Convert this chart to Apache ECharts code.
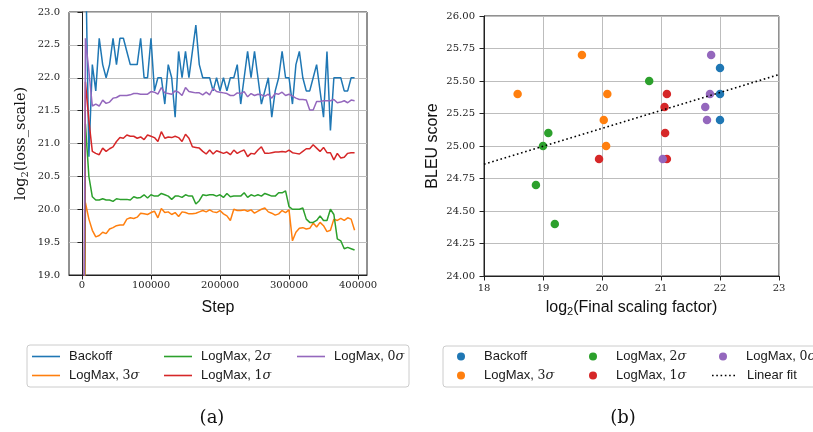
<!DOCTYPE html>
<html>
<head>
<meta charset="utf-8">
<script src="https://cdn.jsdelivr.net/npm/echarts@6/dist/echarts.min.js"></script>
<style>
  html, body { margin: 0; padding: 0; background: #fff; }
  #main { width: 813px; height: 432px; }
</style>
</head>
<body>
<div id="main"></div>
<script>
// (a) training step of each logged point
const steps = [1000, 5000, 10000, 15000, 20000, 25000, 30000, 35000, 40000, 45000,
  50000, 55000, 60000, 65000, 70000, 75000, 80000, 85000, 90000, 95000,
  100000, 105000, 110000, 115000, 120000, 125000, 130000, 135000, 140000, 145000,
  150000, 155000, 160000, 165000, 170000, 175000, 180000, 185000, 190000, 195000,
  200000, 205000, 210000, 215000, 220000, 225000, 230000, 235000, 240000, 245000,
  250000, 255000, 260000, 265000, 270000, 275000, 280000, 285000, 290000, 295000,
  300000, 305000, 310000, 315000, 320000, 325000, 330000, 335000, 340000, 345000,
  350000, 355000, 360000, 365000, 370000, 375000, 380000, 385000, 390000, 395000];

// log2(loss_scale) per run
const backoff = [24.0, 24.0, 20.8, 22.2, 21.8, 22.6, 22.2, 22.0, 22.2, 22.6,
  22.2, 22.6, 22.6, 22.4, 22.2, 22.2, 22.2, 22.6, 22.0, 22.0,
  22.6, 21.8, 22.0, 22.0, 21.6, 22.2, 22.0, 21.4, 22.4, 22.0,
  22.4, 22.0, 22.4, 22.8, 22.2, 22.0, 22.0, 22.0, 21.8, 22.0,
  21.8, 22.0, 21.8, 22.0, 22.0, 22.2, 21.6, 22.0, 22.4, 22.0,
  22.4, 22.0, 21.6, 21.8, 22.0, 21.4, 21.8, 22.0, 22.4, 22.0,
  22.0, 21.6, 22.2, 22.4, 22.0, 21.8, 21.8, 22.0, 22.2, 21.8,
  21.4, 22.4, 21.2, 22.0, 22.0, 22.0, 21.8, 21.8, 22.0, 22.0];
const logmax3 = [14, 20.1, 19.85, 19.68, 19.58, 19.6, 19.65, 19.63, 19.7, 19.72,
  19.75, 19.76, 19.76, 19.85, 19.87, 19.86, 19.88, 19.94, 19.93, 19.92,
  19.95, 19.97, 19.87, 20.01, 19.95, 19.96, 19.92, 19.95, 19.89, 19.96,
  19.95, 19.93, 19.93, 19.94, 19.96, 19.98, 19.96, 19.99, 19.96, 19.95,
  19.98, 19.93, 19.9, 19.83, 20.0, 19.98, 19.98, 19.99, 19.97, 19.99,
  19.94, 19.97, 20.0, 20.02, 19.96, 19.94, 19.91, 19.93, 19.98, 19.95,
  19.99, 19.52, 19.65, 19.71, 19.72, 19.7, 19.71, 19.79, 19.73, 19.8,
  19.75, 19.66, 19.68, 19.85, 19.83, 19.86, 19.83, 19.87, 19.85, 19.68];
const logmax2 = [14, 21.3, 20.5, 20.19, 20.14, 20.14, 20.16, 20.14, 20.14, 20.12,
  20.16, 20.15, 20.15, 20.15, 20.14, 20.19, 20.17, 20.18, 20.22, 20.17,
  20.22, 20.2, 20.2, 20.24, 20.22, 20.2, 20.15, 20.2, 20.2, 20.18,
  20.22, 20.2, 20.2, 20.08, 20.13, 20.22, 20.21, 20.22, 20.22, 20.2,
  20.22, 20.18, 20.24, 20.19, 20.2, 20.2, 20.2, 20.25, 20.18, 20.22,
  20.2, 20.22, 20.2, 20.24, 20.22, 20.2, 20.2, 20.25, 20.25, 20.28,
  20.04, 20.0, 20.0, 20.0, 20.02, 19.85, 19.8, 19.8, 19.83, 19.9,
  19.83, 19.83, 20.0, 19.92, 19.55, 19.52, 19.4, 19.42, 19.4, 19.38];
const logmax1 = [14, 21.94, 21.35, 20.88, 20.85, 20.83, 20.93, 20.88, 20.92, 20.95,
  21.03, 21.09, 21.08, 21.13, 21.11, 21.11, 21.08, 21.1, 21.06, 21.13,
  21.11, 21.09, 21.03, 21.18, 21.08, 21.1, 21.09, 21.11, 21.09, 21.03,
  21.14, 21.08, 20.95, 20.94, 20.93, 20.88, 20.84, 20.9, 20.84, 20.89,
  20.87, 20.85, 20.87, 20.83, 20.9, 20.85, 20.88, 20.9, 20.8, 20.85,
  20.84, 20.9, 20.95, 20.85, 20.85, 20.86, 20.87, 20.87, 20.88, 20.87,
  20.9, 20.86, 20.85, 20.84, 20.88, 20.92, 20.92, 20.98, 20.93, 20.88,
  20.94, 20.86, 20.86, 20.75, 20.85, 20.78, 20.79, 20.85, 20.86, 20.86];
const logmax0 = [14, 22.6, 22.1, 21.57, 21.6, 21.57, 21.66, 21.61, 21.63, 21.69,
  21.7, 21.73, 21.73, 21.73, 21.74, 21.76, 21.76, 21.75, 21.75, 21.75,
  21.79, 21.78, 21.75, 21.85, 21.77, 21.76, 21.75, 21.8, 21.78, 21.73,
  21.85, 21.79, 21.78, 21.77, 21.77, 21.74, 21.78, 21.74, 21.84, 21.79,
  21.78, 21.77, 21.76, 21.73, 21.73, 21.77, 21.76, 21.79, 21.71, 21.76,
  21.73, 21.75, 21.74, 21.72, 21.75, 21.69, 21.76, 21.75, 21.78, 21.73,
  21.75, 21.72, 21.69, 21.67, 21.67, 21.66, 21.51, 21.51, 21.64, 21.64,
  21.65, 21.65, 21.65, 21.67, 21.62, 21.63, 21.65, 21.62, 21.66, 21.65];

// (b) final log2 scaling factor vs BLEU
const bBackoff = [[22.0, 25.6], [22.0, 25.4], [22.0, 25.2]];
const bLogmax3 = [[18.57, 25.4], [19.66, 25.7], [20.09, 25.4], [20.03, 25.2], [20.07, 25.0]];
const bLogmax2 = [[19.09, 25.1], [19.0, 25.0], [18.88, 24.7], [19.2, 24.4], [20.8, 25.5]];
const bLogmax1 = [[21.1, 25.4], [21.06, 25.3], [21.07, 25.1], [21.1, 24.9], [19.95, 24.9]];
const bLogmax0 = [[21.85, 25.7], [21.83, 25.4], [21.75, 25.3], [21.78, 25.2], [21.03, 24.9]];
const fitLine = [[18, 24.86], [23, 25.55]];

const runNames = ['Backoff', 'LogMax, 3σ', 'LogMax, 2σ', 'LogMax, 1σ', 'LogMax, 0σ'];
const colors = ['#1f77b4', '#ff7f0e', '#2ca02c', '#d62728', '#9467bd'];

const tickFont = 'DejaVu Serif';
const sansFont = 'Liberation Sans';
const gridLine = { show: true, lineStyle: { color: '#bdbdbd', width: 1 } };
const dark = '#222';
// six small squares, drawn as the legend sample of the dotted fit line
const dotsIcon = 'path://M0,0h1.6v1.6h-1.6z M4.3,0h1.6v1.6h-1.6z M8.6,0h1.6v1.6h-1.6z M12.9,0h1.6v1.6h-1.6z M17.2,0h1.6v1.6h-1.6z M21.5,0h1.6v1.6h-1.6z';

// names in panel b get a trailing space so the legends stay apart
const bName = n => n + ' ';

function fmtName(name) {
  const s = name.trim();
  const m = s.match(/^(.*, )(\d)σ$/);
  if (m) return '{t|' + m[1] + '}{n|' + m[2] + '}{s|σ}';
  return '{t|' + s + '}';
}
const legendRich = {
  t: { fontFamily: sansFont, fontSize: 13, color: '#1a1a1a' },
  n: { fontFamily: tickFont, fontSize: 12.5, color: '#1a1a1a' },
  s: { fontFamily: tickFont, fontStyle: 'italic', fontSize: 13, color: '#1a1a1a' }
};
function legendItem(name, icon, left, top, w, h, gap) {
  return {
    data: [{ name: name, icon: icon }], left: left, top: top, padding: 0,
    itemWidth: w, itemHeight: h, selectedMode: false,
    formatter: fmtName,
    textStyle: { rich: legendRich, padding: [0, 0, 0, gap] }
  };
}

const lineData = [backoff, logmax3, logmax2, logmax1, logmax0];
const series = [];
lineData.forEach((vals, i) => {
  series.push({
    name: runNames[i], type: 'line', xAxisIndex: 0, yAxisIndex: 0,
    data: steps.map((s, k) => [s, vals[k]]),
    showSymbol: false, symbol: 'none',
    lineStyle: { color: colors[i], width: 1.5 }, itemStyle: { color: colors[i] }
  });
});
[bBackoff, bLogmax3, bLogmax2, bLogmax1, bLogmax0].forEach((pts, i) => {
  series.push({
    name: bName(runNames[i]), type: 'scatter', xAxisIndex: 1, yAxisIndex: 1,
    data: pts, symbol: 'circle', symbolSize: 8.5,
    itemStyle: { color: colors[i], opacity: 1 }
  });
});
series.push({
  name: 'Linear fit', type: 'line', xAxisIndex: 1, yAxisIndex: 1,
  data: fitLine, showSymbol: false, symbol: 'none',
  lineStyle: { color: '#000', width: 1.6, type: [1.6, 2.7] }, itemStyle: { color: '#000' }
});

const chart = echarts.init(document.getElementById('main'));
chart.setOption({
  animation: false,
  backgroundColor: '#fff',
  grid: [
    { left: 69, top: 12, width: 298, height: 263, show: true, borderColor: dark, borderWidth: 1, containLabel: false },
    { left: 484, top: 16, width: 295, height: 260, show: true, borderColor: dark, borderWidth: 1, containLabel: false }
  ],
  xAxis: [
    {
      gridIndex: 0, type: 'value', min: -18800, max: 413000,
      name: 'Step', nameLocation: 'middle', nameGap: 25,
      nameTextStyle: { fontFamily: sansFont, fontSize: 16, color: '#111' },
      axisLine: { lineStyle: { color: dark } },
      axisTick: { length: 4.5, lineStyle: { color: dark }, customValues: [0, 100000, 200000, 300000, 400000] },
      axisLabel: { fontFamily: tickFont, fontSize: 10, color: '#222', margin: 5,
        customValues: [0, 100000, 200000, 300000, 400000], formatter: v => String(v) },
      splitLine: gridLine
    },
    {
      gridIndex: 1, type: 'value', min: 18, max: 23, interval: 1,
      name: 'log{sub|2}(Final scaling factor)', nameLocation: 'middle', nameGap: 20,
      nameTextStyle: { fontFamily: sansFont, fontSize: 16, color: '#111', lineHeight: 20,
        rich: { sub: { fontFamily: sansFont, fontSize: 11, lineHeight: 11, verticalAlign: 'bottom', color: '#111' } } },
      axisLine: { lineStyle: { color: dark } },
      axisTick: { length: 4.5, lineStyle: { color: dark } },
      axisLabel: { fontFamily: tickFont, fontSize: 10, color: '#222', margin: 7, formatter: v => String(v) },
      splitLine: gridLine
    }
  ],
  yAxis: [
    {
      gridIndex: 0, type: 'value', min: 19, max: 23, interval: 0.5,
      name: 'log{sub|2}(loss_scale)', nameLocation: 'middle', nameGap: 39,
      nameTextStyle: { fontFamily: tickFont, fontSize: 14.5, color: '#111', lineHeight: 18,
        rich: { sub: { fontFamily: tickFont, fontSize: 10, lineHeight: 10, verticalAlign: 'bottom', color: '#111' } } },
      axisLine: { lineStyle: { color: dark } },
      axisTick: { length: 4.5, lineStyle: { color: dark } },
      axisLabel: { fontFamily: tickFont, fontSize: 10, color: '#222', margin: 9, formatter: v => v.toFixed(1) },
      splitLine: gridLine
    },
    {
      gridIndex: 1, type: 'value', min: 24, max: 26, interval: 0.25,
      name: 'BLEU score', nameLocation: 'middle', nameGap: 43,
      nameTextStyle: { fontFamily: sansFont, fontSize: 16, color: '#111' },
      axisLine: { lineStyle: { color: dark } },
      axisTick: { length: 4.5, lineStyle: { color: dark } },
      axisLabel: { fontFamily: tickFont, fontSize: 10, color: '#222', margin: 9, formatter: v => v.toFixed(2) },
      splitLine: gridLine
    }
  ],
  legend: [
    legendItem(runNames[0], 'rect', 32, 350, 28, 1.6, 4),
    legendItem(runNames[1], 'rect', 32, 369, 28, 1.6, 4),
    legendItem(runNames[2], 'rect', 164, 350, 28, 1.6, 4),
    legendItem(runNames[3], 'rect', 164, 369, 28, 1.6, 4),
    legendItem(runNames[4], 'rect', 297, 350, 28, 1.6, 4),
    legendItem(bName(runNames[0]), 'circle', 457, 350, 8, 8, 14),
    legendItem(bName(runNames[1]), 'circle', 457, 369, 8, 8, 14),
    legendItem(bName(runNames[2]), 'circle', 589, 350, 8, 8, 14),
    legendItem(bName(runNames[3]), 'circle', 589, 369, 8, 8, 14),
    legendItem(bName(runNames[4]), 'circle', 719, 350, 8, 8, 14),
    legendItem('Linear fit', dotsIcon, 712, 369, 23, 1.6, 7)
  ],
  graphic: [
    { type: 'rect', z: 0, shape: { x: 27, y: 345, width: 382, height: 42, r: 3 },
      style: { fill: '#fff', stroke: '#cccccc', lineWidth: 1 } },
    { type: 'rect', z: 0, shape: { x: 443, y: 346, width: 400, height: 41, r: 3 },
      style: { fill: '#fff', stroke: '#cccccc', lineWidth: 1 } },
    { type: 'text', x: 212, y: 418,
      style: { text: '(a)', font: '18px "DejaVu Serif"', fill: '#111', align: 'center', verticalAlign: 'middle' } },
    { type: 'text', x: 623, y: 418,
      style: { text: '(b)', font: '18px "DejaVu Serif"', fill: '#111', align: 'center', verticalAlign: 'middle' } }
  ],
  series: series
});
</script>
</body>
</html>
